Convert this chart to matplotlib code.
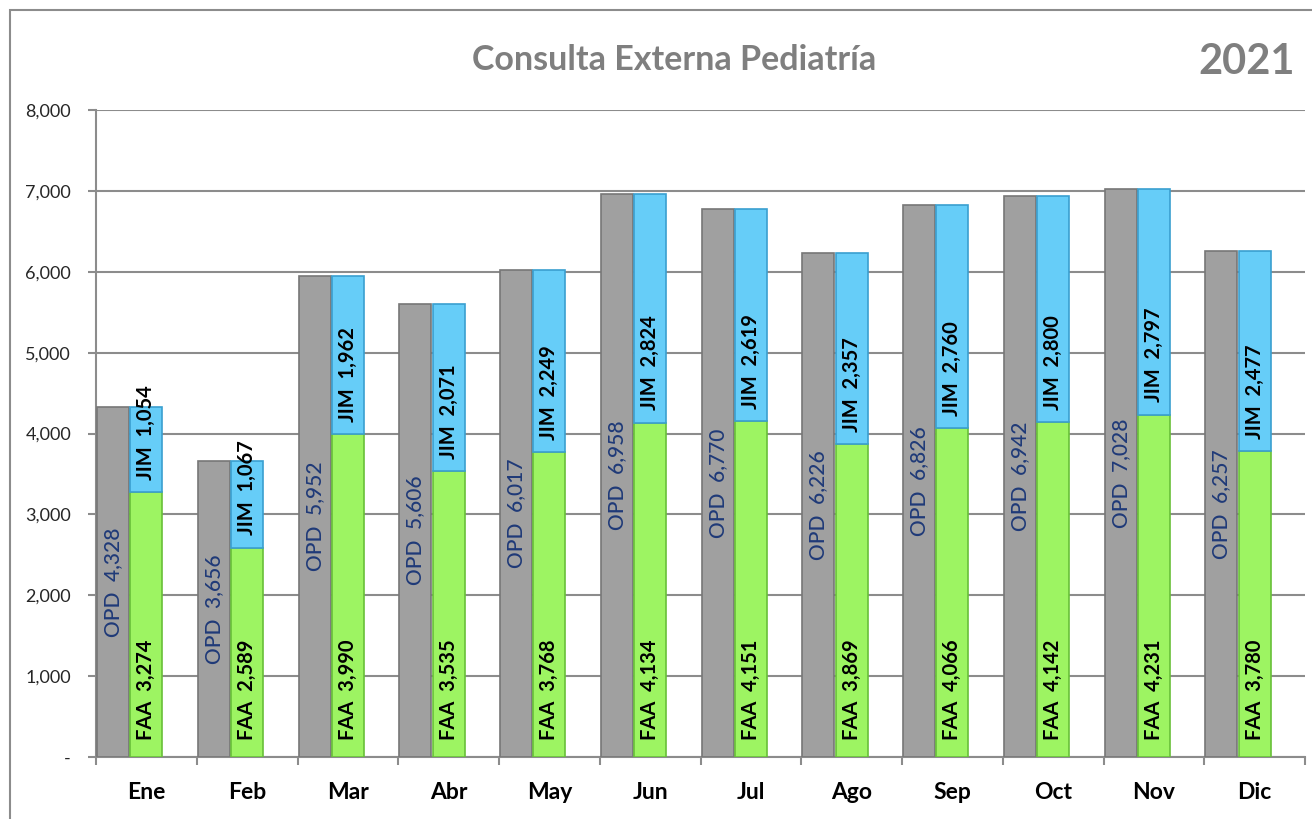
import numpy as np
import matplotlib
matplotlib.use("Agg")
import matplotlib.pyplot as plt
from matplotlib.patches import Rectangle
from matplotlib.ticker import FuncFormatter

# --- DATA ---
months = ["Ene", "Feb", "Mar", "Abr", "May", "Jun", "Jul", "Ago", "Sep", "Oct", "Nov", "Dic"]
opd = [4328, 3656, 5952, 5606, 6017, 6958, 6770, 6226, 6826, 6942, 7028, 6257]
faa = [3274, 2589, 3990, 3535, 3768, 4134, 4151, 3869, 4066, 4142, 4231, 3780]
jim = [1054, 1067, 1962, 2071, 2249, 2824, 2619, 2357, 2760, 2800, 2797, 2477]

# --- STYLE ---
plt.rcParams['font.family'] = ['Lato', 'DejaVu Sans']
GRAY = '#a0a0a0'
GREEN = '#9df462'
BLUE = '#66cdf8'
NAVY = '#1f3a78'
W = 0.32

fig = plt.figure(figsize=(13.12, 8.19), dpi=100)
ax = fig.add_axes([96/1312, 62/819, 1209/1312, 647/819])

x = np.arange(len(months))
ax.bar(x - 0.33, opd, W, color=GRAY, edgecolor='#777777', linewidth=1.2, zorder=3)
ax.bar(x, faa, W, color=GREEN, edgecolor='#68c038', linewidth=1.2, zorder=3)
ax.bar(x, jim, W, bottom=faa, color=BLUE, edgecolor='#3a9fd0', linewidth=1.2, zorder=3)

# data labels
for i in range(len(months)):
    ax.text(x[i] - 0.33, opd[i] / 2, f"OPD  {opd[i]:,}", rotation=90,
            ha='center', va='center', rotation_mode='anchor',
            color=NAVY, fontsize=15, fontweight='medium', zorder=4)
    ax.annotate(f"FAA  {faa[i]:,}", (x[i], 0), xytext=(0, 12),
                textcoords='offset points', rotation=90, ha='center', va='bottom',
                color='black', fontsize=14.5, fontweight='bold', zorder=4)
    ax.annotate(f"JIM  {jim[i]:,}", (x[i], faa[i]), xytext=(0, 9),
                textcoords='offset points', rotation=90, ha='center', va='bottom',
                color='black', fontsize=14.5, fontweight='bold', zorder=4)

ax.set_xlim(-0.5, len(months) - 0.5)
ax.set_ylim(0, 8000)
ax.set_yticks(np.arange(0, 8001, 1000))
ax.yaxis.set_major_formatter(FuncFormatter(lambda v, p: '-' if v == 0 else f"{int(v):,}"))
ax.grid(axis='y', color='#8c8c8c', linewidth=1.5, zorder=0)

ax.set_xticks(x)
ax.set_xticklabels(months, fontsize=16.5, fontweight='bold')
ax.set_xticks(np.arange(-0.5, len(months)), minor=True)
ax.tick_params(axis='x', which='major', length=0, pad=18)
ax.tick_params(axis='x', which='minor', length=6, width=1.5, color='#8c8c8c')
ax.tick_params(axis='y', length=6, width=1.5, color='#8c8c8c', labelsize=13,
               labelcolor='#262626', pad=12)

for s in ['top', 'right']:
    ax.spines[s].set_visible(False)
for s in ['left', 'bottom']:
    ax.spines[s].set_color('#8c8c8c')
    ax.spines[s].set_linewidth(1.5)

fig.text(674/1312, 1 - 60/819, "Consulta Externa Pediatría", ha='center', va='center',
         fontsize=24.5, fontweight='bold', color='#7f7f7f')
fig.text(1295/1312, 1 - 62/819, "2021", ha='right', va='center',
         fontsize=30, fontweight='bold', color='#7f7f7f')

# outer chart border
fig.patches.append(Rectangle((10/1312, -0.05), 1.1, 1 - 10/819 + 0.05,
                             transform=fig.transFigure, fill=False,
                             edgecolor='#8c8c8c', linewidth=1.5))

fig.savefig("out.png", dpi=100)
